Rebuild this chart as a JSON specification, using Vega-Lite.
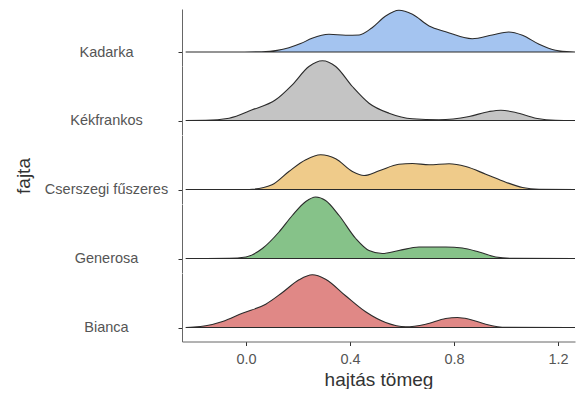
{
  "$schema": "https://vega.github.io/schema/vega-lite/v6.json",
  "padding": {"left": 14, "top": 8, "right": 0, "bottom": 0},
  "background": "white",
  "datasets": {
    "suruseg": [
      {"fajta": "Kadarka", "tomeg": -0.232, "d": 0},
      {"fajta": "Kadarka", "tomeg": -0.05, "d": 0},
      {"fajta": "Kadarka", "tomeg": 0.06, "d": 0.015},
      {"fajta": "Kadarka", "tomeg": 0.12, "d": 0.08},
      {"fajta": "Kadarka", "tomeg": 0.165, "d": 0.215},
      {"fajta": "Kadarka", "tomeg": 0.21, "d": 0.42},
      {"fajta": "Kadarka", "tomeg": 0.254, "d": 0.685},
      {"fajta": "Kadarka", "tomeg": 0.319, "d": 0.885},
      {"fajta": "Kadarka", "tomeg": 0.383, "d": 0.84},
      {"fajta": "Kadarka", "tomeg": 0.435, "d": 0.85},
      {"fajta": "Kadarka", "tomeg": 0.485, "d": 1.215},
      {"fajta": "Kadarka", "tomeg": 0.537, "d": 1.8},
      {"fajta": "Kadarka", "tomeg": 0.588, "d": 2.085},
      {"fajta": "Kadarka", "tomeg": 0.64, "d": 1.885},
      {"fajta": "Kadarka", "tomeg": 0.704, "d": 1.3},
      {"fajta": "Kadarka", "tomeg": 0.768, "d": 1.015},
      {"fajta": "Kadarka", "tomeg": 0.87, "d": 0.665},
      {"fajta": "Kadarka", "tomeg": 0.947, "d": 0.85},
      {"fajta": "Kadarka", "tomeg": 1.01, "d": 1.0},
      {"fajta": "Kadarka", "tomeg": 1.063, "d": 0.835},
      {"fajta": "Kadarka", "tomeg": 1.127, "d": 0.385},
      {"fajta": "Kadarka", "tomeg": 1.19, "d": 0.085},
      {"fajta": "Kadarka", "tomeg": 1.25, "d": 0.005},
      {"fajta": "Kadarka", "tomeg": 1.265, "d": 0},

      {"fajta": "Kékfrankos", "tomeg": -0.232, "d": 0},
      {"fajta": "Kékfrankos", "tomeg": -0.155, "d": 0.005},
      {"fajta": "Kékfrankos", "tomeg": -0.065, "d": 0.115},
      {"fajta": "Kékfrankos", "tomeg": 0.024, "d": 0.535},
      {"fajta": "Kékfrankos", "tomeg": 0.114, "d": 1.035},
      {"fajta": "Kékfrankos", "tomeg": 0.178, "d": 1.785},
      {"fajta": "Kékfrankos", "tomeg": 0.242, "d": 2.7},
      {"fajta": "Kékfrankos", "tomeg": 0.294, "d": 2.985},
      {"fajta": "Kékfrankos", "tomeg": 0.345, "d": 2.7},
      {"fajta": "Kékfrankos", "tomeg": 0.409, "d": 1.7},
      {"fajta": "Kékfrankos", "tomeg": 0.473, "d": 0.865},
      {"fajta": "Kékfrankos", "tomeg": 0.55, "d": 0.365},
      {"fajta": "Kékfrankos", "tomeg": 0.64, "d": 0.085},
      {"fajta": "Kékfrankos", "tomeg": 0.742, "d": 0.035},
      {"fajta": "Kékfrankos", "tomeg": 0.858, "d": 0.2},
      {"fajta": "Kékfrankos", "tomeg": 0.935, "d": 0.45},
      {"fajta": "Kékfrankos", "tomeg": 0.98, "d": 0.515},
      {"fajta": "Kékfrankos", "tomeg": 1.037, "d": 0.4},
      {"fajta": "Kékfrankos", "tomeg": 1.114, "d": 0.115},
      {"fajta": "Kékfrankos", "tomeg": 1.19, "d": 0.005},
      {"fajta": "Kékfrankos", "tomeg": 1.265, "d": 0},

      {"fajta": "Cserszegi fűszeres", "tomeg": -0.232, "d": 0},
      {"fajta": "Cserszegi fűszeres", "tomeg": 0.0, "d": 0},
      {"fajta": "Cserszegi fűszeres", "tomeg": 0.024, "d": 0.01},
      {"fajta": "Cserszegi fűszeres", "tomeg": 0.1, "d": 0.235},
      {"fajta": "Cserszegi fűszeres", "tomeg": 0.165, "d": 0.9},
      {"fajta": "Cserszegi fűszeres", "tomeg": 0.23, "d": 1.485},
      {"fajta": "Cserszegi fűszeres", "tomeg": 0.287, "d": 1.735},
      {"fajta": "Cserszegi fűszeres", "tomeg": 0.345, "d": 1.535},
      {"fajta": "Cserszegi fűszeres", "tomeg": 0.409, "d": 0.9},
      {"fajta": "Cserszegi fűszeres", "tomeg": 0.454, "d": 0.7},
      {"fajta": "Cserszegi fűszeres", "tomeg": 0.512, "d": 0.935},
      {"fajta": "Cserszegi fűszeres", "tomeg": 0.588, "d": 1.265},
      {"fajta": "Cserszegi fűszeres", "tomeg": 0.64, "d": 1.3},
      {"fajta": "Cserszegi fűszeres", "tomeg": 0.704, "d": 1.235},
      {"fajta": "Cserszegi fűszeres", "tomeg": 0.781, "d": 1.285},
      {"fajta": "Cserszegi fűszeres", "tomeg": 0.845, "d": 1.15},
      {"fajta": "Cserszegi fűszeres", "tomeg": 0.922, "d": 0.765},
      {"fajta": "Cserszegi fűszeres", "tomeg": 0.999, "d": 0.365},
      {"fajta": "Cserszegi fűszeres", "tomeg": 1.063, "d": 0.1},
      {"fajta": "Cserszegi fűszeres", "tomeg": 1.127, "d": 0.01},
      {"fajta": "Cserszegi fűszeres", "tomeg": 1.265, "d": 0},

      {"fajta": "Generosa", "tomeg": -0.232, "d": 0},
      {"fajta": "Generosa", "tomeg": -0.065, "d": 0.005},
      {"fajta": "Generosa", "tomeg": 0.0, "d": 0.075},
      {"fajta": "Generosa", "tomeg": 0.063, "d": 0.5},
      {"fajta": "Generosa", "tomeg": 0.127, "d": 1.325},
      {"fajta": "Generosa", "tomeg": 0.178, "d": 2.15},
      {"fajta": "Generosa", "tomeg": 0.23, "d": 2.85},
      {"fajta": "Generosa", "tomeg": 0.268, "d": 3.075},
      {"fajta": "Generosa", "tomeg": 0.306, "d": 2.9},
      {"fajta": "Generosa", "tomeg": 0.358, "d": 2.15},
      {"fajta": "Generosa", "tomeg": 0.422, "d": 1.0},
      {"fajta": "Generosa", "tomeg": 0.473, "d": 0.4},
      {"fajta": "Generosa", "tomeg": 0.524, "d": 0.25},
      {"fajta": "Generosa", "tomeg": 0.588, "d": 0.4},
      {"fajta": "Generosa", "tomeg": 0.665, "d": 0.575},
      {"fajta": "Generosa", "tomeg": 0.768, "d": 0.575},
      {"fajta": "Generosa", "tomeg": 0.832, "d": 0.525},
      {"fajta": "Generosa", "tomeg": 0.896, "d": 0.325},
      {"fajta": "Generosa", "tomeg": 0.96, "d": 0.075},
      {"fajta": "Generosa", "tomeg": 1.03, "d": 0.005},
      {"fajta": "Generosa", "tomeg": 1.265, "d": 0},

      {"fajta": "Bianca", "tomeg": -0.232, "d": 0},
      {"fajta": "Bianca", "tomeg": -0.2, "d": 0.02},
      {"fajta": "Bianca", "tomeg": -0.155, "d": 0.085},
      {"fajta": "Bianca", "tomeg": -0.09, "d": 0.3},
      {"fajta": "Bianca", "tomeg": -0.014, "d": 0.715},
      {"fajta": "Bianca", "tomeg": 0.076, "d": 1.165},
      {"fajta": "Bianca", "tomeg": 0.14, "d": 1.75},
      {"fajta": "Bianca", "tomeg": 0.204, "d": 2.385},
      {"fajta": "Bianca", "tomeg": 0.255, "d": 2.635},
      {"fajta": "Bianca", "tomeg": 0.306, "d": 2.415},
      {"fajta": "Bianca", "tomeg": 0.383, "d": 1.585},
      {"fajta": "Bianca", "tomeg": 0.46, "d": 0.785},
      {"fajta": "Bianca", "tomeg": 0.537, "d": 0.25},
      {"fajta": "Bianca", "tomeg": 0.614, "d": 0.035},
      {"fajta": "Bianca", "tomeg": 0.691, "d": 0.165},
      {"fajta": "Bianca", "tomeg": 0.768, "d": 0.45},
      {"fajta": "Bianca", "tomeg": 0.813, "d": 0.5},
      {"fajta": "Bianca", "tomeg": 0.858, "d": 0.415},
      {"fajta": "Bianca", "tomeg": 0.922, "d": 0.165},
      {"fajta": "Bianca", "tomeg": 1.0, "d": 0.005},
      {"fajta": "Bianca", "tomeg": 1.265, "d": 0}
    ]
  },
  "data": {"name": "suruseg"},
  "spacing": 0,
  "bounds": "flush",
  "resolve": {"scale": {"x": "independent", "y": "independent"}, "axis": {"x": "independent", "y": "independent"}},
  "vconcat": [
    {
      "width": 393, "height": 57,
      "transform": [{"filter": "datum.fajta === 'Kadarka'"}],
      "mark": {"type": "area", "interpolate": "monotone", "fill": "#a4c4f0", "stroke": "#2b2b2b", "strokeWidth": 1.1},
      "encoding": {
        "x": {"field": "tomeg", "type": "quantitative", "scale": {"domain": [-0.246, 1.265], "nice": false, "zero": false}, "axis": null},
        "y": {"field": "d", "type": "quantitative", "scale": {"domain": [-0.7, 2.15], "nice": false, "zero": false},
              "axis": {"values": [0], "labelExpr": "'Kadarka'", "title": null}},
        "y2": {"datum": 0}
      }
    },
    {
      "width": 393, "height": 68.5,
      "transform": [{"filter": "datum.fajta === 'Kékfrankos'"}],
      "mark": {"type": "area", "interpolate": "monotone", "fill": "#c4c4c4", "stroke": "#2b2b2b", "strokeWidth": 1.1},
      "encoding": {
        "x": {"field": "tomeg", "type": "quantitative", "scale": {"domain": [-0.246, 1.265], "nice": false, "zero": false}, "axis": null},
        "y": {"field": "d", "type": "quantitative", "scale": {"domain": [-0.7, 2.725], "nice": false, "zero": false},
              "axis": {"values": [0], "labelExpr": "'Kékfrankos'", "title": null}},
        "y2": {"datum": 0}
      }
    },
    {
      "width": 393, "height": 68.5,
      "transform": [{"filter": "datum.fajta === 'Cserszegi fűszeres'"}],
      "mark": {"type": "area", "interpolate": "monotone", "fill": "#efcb8a", "stroke": "#2b2b2b", "strokeWidth": 1.1},
      "encoding": {
        "x": {"field": "tomeg", "type": "quantitative", "scale": {"domain": [-0.246, 1.265], "nice": false, "zero": false}, "axis": null},
        "y": {"field": "d", "type": "quantitative", "scale": {"domain": [-0.7, 2.725], "nice": false, "zero": false},
              "axis": {"values": [0], "labelExpr": "'Cserszegi fűszeres'", "title": "fajta", "titleY": 40.5, "titlePadding": 11}},
        "y2": {"datum": 0}
      }
    },
    {
      "width": 393, "height": 68.5,
      "transform": [{"filter": "datum.fajta === 'Generosa'"}],
      "mark": {"type": "area", "interpolate": "monotone", "fill": "#86c289", "stroke": "#2b2b2b", "strokeWidth": 1.1},
      "encoding": {
        "x": {"field": "tomeg", "type": "quantitative", "scale": {"domain": [-0.246, 1.265], "nice": false, "zero": false}, "axis": null},
        "y": {"field": "d", "type": "quantitative", "scale": {"domain": [-0.7, 2.725], "nice": false, "zero": false},
              "axis": {"values": [0], "labelExpr": "'Generosa'", "title": null}},
        "y2": {"datum": 0}
      }
    },
    {
      "width": 393, "height": 68.5,
      "transform": [{"filter": "datum.fajta === 'Bianca'"}],
      "mark": {"type": "area", "interpolate": "monotone", "fill": "#e08886", "stroke": "#2b2b2b", "strokeWidth": 1.1},
      "encoding": {
        "x": {"field": "tomeg", "type": "quantitative", "scale": {"domain": [-0.246, 1.265], "nice": false, "zero": false},
              "axis": {"values": [0, 0.4, 0.8, 1.2], "format": ".1f", "title": "hajtás tömeg", "orient": "bottom",
                       "labelAlign": "center", "labelBaseline": "top", "labelPadding": 7, "titlePadding": 4}},
        "y": {"field": "d", "type": "quantitative", "scale": {"domain": [-0.7, 2.725], "nice": false, "zero": false},
              "axis": {"values": [0], "labelExpr": "'Bianca'", "title": null}},
        "y2": {"datum": 0}
      }
    }
  ],
  "config": {
    "view": {"stroke": null},
    "font": "Liberation Sans",
    "axis": {
      "grid": false,
      "domainColor": "#666666",
      "domainWidth": 1,
      "tickColor": "#333333",
      "tickSize": 4,
      "tickWidth": 1,
      "labelFont": "Liberation Sans",
      "labelFontSize": 14.5,
      "labelColor": "#555555",
      "titleFont": "Liberation Sans",
      "titleFontSize": 19,
      "titleFontWeight": "normal",
      "titleColor": "#333333"
    },
    "axisY": {
      "labelAlign": "center",
      "labelBaseline": "middle",
      "labelPadding": 72
    }
  }
}
